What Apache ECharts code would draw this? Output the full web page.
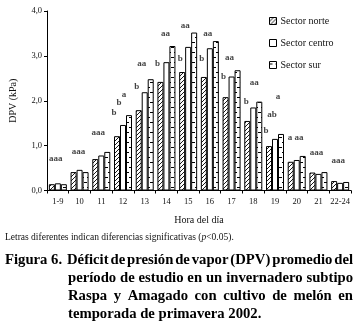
<!DOCTYPE html>
<html>
<head>
<meta charset="utf-8">
<script src="https://cdn.jsdelivr.net/npm/echarts@6/dist/echarts.min.js"></script>
<style>
  html, body { margin: 0; padding: 0; background: #fff; }
  #chart { width: 357px; height: 324px; }
</style>
</head>
<body>
<div id="chart"></div>
<script>
// datos
var horas = ['1-9', '10', '11', '12', '13', '14', '15', '16', '17', '18', '19', '20', '21', '22-24'];
var sectorNorte  = [0.14, 0.41, 0.70, 1.21, 1.79, 2.42, 2.64, 2.53, 2.08, 1.55, 0.99, 0.64, 0.40, 0.21];
var sectorCentro = [0.16, 0.46, 0.78, 1.46, 2.19, 2.86, 3.20, 3.17, 2.54, 1.85, 1.15, 0.68, 0.37, 0.17];
var sectorSur    = [0.14, 0.41, 0.86, 1.68, 2.48, 3.22, 3.52, 3.33, 2.68, 1.98, 1.26, 0.77, 0.41, 0.19];
var ticksY = [0, 1, 2, 3, 4];

// letras de significancia: categoria, nivel (kPa), texto
var letraCat   = [0, 1, 2, 3, 3, 3, 4, 4, 5, 5, 6, 6, 7, 7, 8, 8, 9, 9, 10, 10, 10, 11, 12, 13];
var letraNivel = [0.70, 0.86, 1.28, 1.73, 1.95, 2.13, 2.32, 2.82, 2.82, 3.49, 2.93, 3.67, 2.93, 3.49,
                  2.53, 2.95, 1.98, 2.40, 1.33, 1.70, 2.08, 1.17, 0.84, 0.66];
var letraTexto = ['aaa', 'aaa', 'aaa', 'b', 'b', 'a', 'b', 'aa', 'b', 'aa', 'b', 'aa', 'b', 'aa',
                  'b', 'aa', 'b', 'aa', 'b', 'ab', 'a', 'a aa', 'aaa', 'aaa'];
// corrimiento horizontal de cada letra (px)
var letraDx    = [-2, -1, -3, -9, -4, 1, -8, -3, -9, -1, -8, -3, -8, -2,
                  -8, -2, -7, 1, -9, -3, 3, -1, -2, -2];

var serif = '"Liberation Serif", "Times New Roman", serif';

function patronRayado() {
  var c = document.createElement('canvas');
  c.width = 4; c.height = 4;
  var g = c.getContext('2d');
  g.fillStyle = '#fff';
  g.fillRect(0, 0, 4, 4);
  g.strokeStyle = '#000';
  g.lineWidth = 0.9;
  g.beginPath();
  g.moveTo(0, 4); g.lineTo(4, 0);
  g.moveTo(-1, 1); g.lineTo(1, -1);
  g.moveTo(3, 5); g.lineTo(5, 3);
  g.stroke();
  return c;
}

function patronGuiones() {
  var c = document.createElement('canvas');
  c.width = 6; c.height = 10;
  var g = c.getContext('2d');
  g.fillStyle = '#fff';
  g.fillRect(0, 0, 6, 10);
  g.fillStyle = '#000';
  g.fillRect(0, 2, 3, 1);
  g.fillRect(3, 7, 3, 1);
  return c;
}

// texto justificado palabra por palabra
function lineaJustificada(texto, x0, x1, y, justificar) {
  var fuente = 'bold 14.7px ' + serif;
  var ctx = document.createElement('canvas').getContext('2d');
  ctx.font = fuente;
  var palabras = texto.split(' ');
  var anchos = palabras.map(function (p) { return ctx.measureText(p).width; });
  var suma = anchos.reduce(function (a, b) { return a + b; }, 0);
  var hueco = justificar ? (x1 - x0 - suma) / (palabras.length - 1) : ctx.measureText(' ').width;
  var els = [];
  var x = x0;
  palabras.forEach(function (p, i) {
    els.push({
      type: 'text', x: x, y: y,
      style: { text: p, fontFamily: serif, fontSize: 14.7, fontWeight: 'bold', fill: '#000', verticalAlign: 'middle' }
    });
    x += anchos[i] + hueco;
  });
  return els;
}

var chart = echarts.init(document.getElementById('chart'));

var anotaciones = letraCat.map(function (c, i) {
  return {
    value: [c, letraNivel[i]],
    label: { formatter: letraTexto[i], offset: [letraDx[i], 0] }
  };
});

var graficos = [
  {
    type: 'text', x: 5, y: 237,
    style: {
      text: '{n|Letras diferentes indican diferencias significativas (}{i|p}{n|<0.05).}',
      verticalAlign: 'middle',
      rich: {
        n: { fontFamily: serif, fontSize: 9.5, fill: '#111' },
        i: { fontFamily: serif, fontSize: 9.5, fontStyle: 'italic', fill: '#111' }
      }
    }
  },
  {
    type: 'text', x: 5, y: 260,
    style: { text: 'Figura 6.', fontFamily: serif, fontSize: 14.7, fontWeight: 'bold', fill: '#000', verticalAlign: 'middle' }
  }
];
graficos = graficos
  .concat(lineaJustificada('Déficit de presión de vapor (DPV) promedio del', 67, 353, 260, true))
  .concat(lineaJustificada('período de estudio en un invernadero subtipo', 68, 353, 278, true))
  .concat(lineaJustificada('Raspa y Amagado con cultivo de melón en', 68, 353, 296, true))
  .concat(lineaJustificada('temporada de primavera 2002.', 68, 353, 314, false));

var option = {
  animation: false,
  backgroundColor: '#fff',
  textStyle: { fontFamily: serif },
  grid: { left: 41, right: 6, top: 11, bottom: 133.5, containLabel: false },
  legend: {
    orient: 'vertical',
    left: 264,
    top: 11,
    itemWidth: 7,
    itemHeight: 7,
    itemGap: 12,
    icon: 'rect',
    itemStyle: { borderWidth: 1, borderColor: '#000' },
    textStyle: { fontFamily: serif, fontSize: 10, color: '#111', padding: [0, 0, 0, -1] },
    data: ['Sector norte', 'Sector centro', 'Sector sur']
  },
  xAxis: {
    type: 'category',
    data: horas,
    name: 'Hora del día',
    nameLocation: 'middle',
    nameGap: 25,
    nameTextStyle: { fontFamily: serif, fontSize: 10, color: '#111' },
    axisLine: { lineStyle: { color: '#000', width: 1 } },
    axisTick: { show: true, length: 3, lineStyle: { color: '#000' } },
    axisLabel: { interval: 0, fontFamily: serif, fontSize: 8.5, color: '#111', margin: 7 },
    splitLine: { show: false }
  },
  yAxis: {
    type: 'value',
    min: ticksY[0],
    max: ticksY[ticksY.length - 1],
    interval: 1,
    name: 'DPV (kPa)',
    nameLocation: 'middle',
    nameGap: 29,
    nameTextStyle: { fontFamily: serif, fontSize: 10, color: '#111' },
    axisLine: { show: true, lineStyle: { color: '#000', width: 1 } },
    axisTick: { show: true, length: 3, lineStyle: { color: '#000' } },
    axisLabel: {
      fontFamily: serif, fontSize: 8.5, color: '#111', margin: 5,
      formatter: function (v) { return v.toFixed(1).replace('.', ','); }
    },
    splitLine: { show: false }
  },
  series: [
    {
      name: 'Sector norte', type: 'bar', data: sectorNorte,
      barWidth: 6, barGap: '0%',
      itemStyle: { color: { image: patronRayado(), repeat: 'repeat' }, borderColor: '#000', borderWidth: 1 }
    },
    {
      name: 'Sector centro', type: 'bar', data: sectorCentro,
      barWidth: 6, barGap: '0%',
      itemStyle: { color: '#fff', borderColor: '#000', borderWidth: 1 }
    },
    {
      name: 'Sector sur', type: 'bar', data: sectorSur,
      barWidth: 6, barGap: '0%',
      itemStyle: { color: { image: patronGuiones(), repeat: 'repeat' }, borderColor: '#000', borderWidth: 1 }
    },
    {
      name: 'letras', type: 'scatter', data: anotaciones,
      symbolSize: 0, silent: true,
      label: {
        show: true, position: 'inside',
        fontFamily: serif, fontSize: 9, fontWeight: 'bold', color: '#111'
      }
    }
  ],
  graphic: graficos
};

chart.setOption(option);
</script>
</body>
</html>
